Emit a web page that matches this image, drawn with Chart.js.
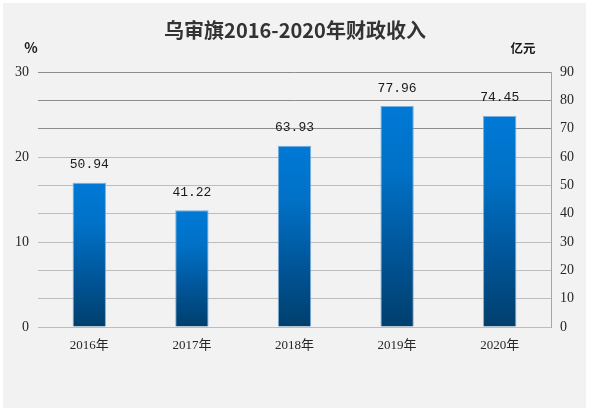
<!DOCTYPE html>
<html><head><meta charset="utf-8">
<script src="https://cdn.jsdelivr.net/npm/chart.js@4"></script>
<style>html,body{margin:0;padding:0;background:#fff;}#wrap{width:592px;height:413px;position:relative;}</style>
</head><body><div id="wrap"><canvas id="c" width="592" height="413"></canvas></div>
<script>
const categories = ["2016年","2017年","2018年","2019年","2020年"];
const revenue = [50.94, 41.22, 63.93, 77.96, 74.45];
const leftTicks = [0, 10, 20, 30];
const rightTicks = [0, 10, 20, 30, 40, 50, 60, 70, 80, 90];
const titleText = "乌审旗2016-2020年财政收入";
const leftUnit = "%";
const rightUnit = "亿元";

const bgPlugin = {
  id: 'bg',
  beforeDraw(chart) {
    const ctx = chart.ctx;
    ctx.save();
    ctx.fillStyle = '#ffffff';
    ctx.fillRect(0, 0, chart.width, chart.height);
    ctx.fillStyle = '#f2f2f2';
    ctx.fillRect(3, 3, 583, 405);
    ctx.restore();
  },
  afterDraw(chart) {
    const ctx = chart.ctx;
    ctx.save();
    ctx.fillStyle = '#333333';
    ctx.textBaseline = 'middle';
    ctx.textAlign = 'center';
    ctx.font = 'bold 20px "Noto Sans CJK SC", sans-serif';
    ctx.fillText(titleText, 295, 30);
    ctx.fillStyle = '#1a1a1a';
    ctx.font = 'bold 14px "Noto Sans CJK SC", sans-serif';
    ctx.fillText(leftUnit, 31, 48);
    ctx.font = 'bold 12.5px "Noto Sans CJK SC", sans-serif';
    ctx.fillText(rightUnit, 523, 48);
    // data labels
    const meta = chart.getDatasetMeta(0);
    ctx.font = '13px "Liberation Mono", monospace';
    ctx.fillStyle = '#1a1a1a';
    meta.data.forEach((bar, i) => {
      ctx.fillText(revenue[i].toFixed(2), bar.x, bar.y - 18);
    });
    ctx.restore();
  }
};

function barGradient(context) {
  const chart = context.chart;
  const area = chart.chartArea;
  if (!area) return '#0078d4';
  const y1 = chart.scales.y1;
  const v = context.raw;
  if (v == null || !y1) return '#0078d4';
  const top = y1.getPixelForValue(v);
  const bottom = y1.getPixelForValue(0);
  const g = chart.ctx.createLinearGradient(0, top, 0, bottom);
  g.addColorStop(0, '#0079d6');
  g.addColorStop(0.3, '#0071c6');
  g.addColorStop(0.65, '#00569a');
  g.addColorStop(1, '#003f6d');
  return g;
}

new Chart(document.getElementById('c'), {
  type: 'bar',
  data: {
    labels: categories,
    datasets: [{
      data: revenue,
      yAxisID: 'y1',
      backgroundColor: barGradient,
      borderColor: 'rgba(110,165,215,0.9)',
      borderWidth: 1,
      barPercentage: 0.65,
      categoryPercentage: 0.5
    }]
  },
  options: {
    responsive: false,
    animation: false,
    devicePixelRatio: 1,
    layout: { padding: { top: 72, left: 0, right: 0, bottom: 0 } },
    plugins: { legend: { display: false }, title: { display: false }, tooltip: { enabled: false } },
    scales: {
      x: {
        grid: { display: false, drawTicks: false },
        border: { display: false },
        ticks: { padding: 11, color: '#262626', font: { family: '"Liberation Serif", "Noto Sans CJK SC", serif', size: 13 } },
        afterFit(s) { s.height = 86; }
      },
      y: {
        position: 'left',
        min: 0, max: 30,
        afterBuildTicks(s) { s.ticks = leftTicks.map(v => ({ value: v })); },
        grid: { display: false, drawTicks: false },
        border: { display: false },
        ticks: { padding: 9, color: '#262626', font: { family: '"Liberation Serif", serif', size: 14 } },
        afterFit(s) { s.width = 38; }
      },
      y1: {
        position: 'right',
        min: 0, max: 90,
        afterBuildTicks(s) { s.ticks = rightTicks.map(v => ({ value: v })); },
        grid: { color: (c) => c.tick && c.tick.value >= 70 ? '#8c8c8c' : '#bdbdbd', lineWidth: 1, drawTicks: false },
        border: { display: true, color: '#a6a6a6', width: 1 },
        ticks: { padding: 9, color: '#262626', font: { family: '"Liberation Serif", serif', size: 14 } },
        afterFit(s) { s.width = 41; }
      }
    }
  },
  plugins: [bgPlugin]
});
</script></body></html>
